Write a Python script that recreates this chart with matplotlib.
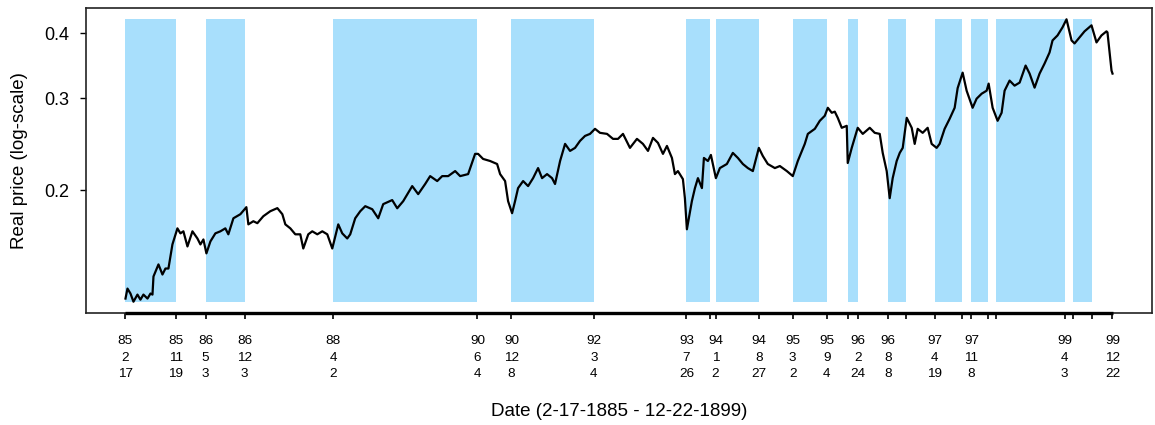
import datetime
import numpy as np
import matplotlib
matplotlib.use("Agg")
import matplotlib.pyplot as plt
from matplotlib.ticker import NullLocator

plt.rcParams['font.family'] = ['Liberation Sans', 'DejaVu Sans']

# real price series (decimal years, price)
years = [1885.129, 1885.159, 1885.204, 1885.249, 1885.309, 1885.354, 1885.399, 1885.460,
         1885.505, 1885.535, 1885.550, 1885.625, 1885.685, 1885.730, 1885.775, 1885.835,
         1885.910, 1885.955, 1886.000, 1886.061, 1886.136, 1886.211, 1886.256, 1886.301,
         1886.346, 1886.406, 1886.481, 1886.556, 1886.631, 1886.676, 1886.752, 1886.857,
         1886.947, 1886.977, 1887.052, 1887.112, 1887.202, 1887.307, 1887.413, 1887.488,
         1887.533, 1887.608, 1887.683, 1887.758, 1887.803, 1887.878, 1887.938, 1888.014,
         1888.089, 1888.164, 1888.239, 1888.329, 1888.389, 1888.464, 1888.509, 1888.584,
         1888.660, 1888.735, 1888.840, 1888.930, 1889.005, 1889.140, 1889.216, 1889.306,
         1889.441, 1889.531, 1889.636, 1889.711, 1889.817, 1889.892, 1889.982, 1890.087,
         1890.162, 1890.282, 1890.387, 1890.432, 1890.507, 1890.613, 1890.718, 1890.763,
         1890.838, 1890.883, 1890.943, 1890.988, 1891.033, 1891.109, 1891.184, 1891.259,
         1891.334, 1891.394, 1891.469, 1891.544, 1891.589, 1891.665, 1891.740, 1891.815,
         1891.890, 1891.965, 1892.040, 1892.115, 1892.190, 1892.265, 1892.371, 1892.461,
         1892.536, 1892.611, 1892.716, 1892.821, 1892.911, 1892.987, 1893.062, 1893.137,
         1893.212, 1893.272, 1893.347, 1893.392, 1893.437, 1893.512, 1893.542, 1893.572,
         1893.647, 1893.693, 1893.738, 1893.798, 1893.828, 1893.888, 1893.933, 1893.963,
         1894.008, 1894.068, 1894.173, 1894.263, 1894.339, 1894.414, 1894.489, 1894.564,
         1894.654, 1894.714, 1894.789, 1894.895, 1894.970, 1895.075, 1895.165, 1895.240,
         1895.345, 1895.391, 1895.496, 1895.571, 1895.646, 1895.691, 1895.751, 1895.796,
         1895.841, 1895.901, 1895.976, 1895.991, 1896.051, 1896.141, 1896.217, 1896.322,
         1896.397, 1896.472, 1896.517, 1896.577, 1896.622, 1896.667, 1896.727, 1896.773,
         1896.818, 1896.878, 1896.953, 1896.998, 1897.043, 1897.118, 1897.193, 1897.253,
         1897.328, 1897.373, 1897.448, 1897.524, 1897.599, 1897.644, 1897.719, 1897.779,
         1897.869, 1897.929, 1898.005, 1898.080, 1898.110, 1898.170, 1898.245, 1898.305,
         1898.350, 1898.425, 1898.500, 1898.576, 1898.666, 1898.726, 1898.801, 1898.876,
         1898.951, 1899.026, 1899.071, 1899.146, 1899.221, 1899.281, 1899.357, 1899.402,
         1899.477, 1899.552, 1899.657, 1899.732, 1899.807, 1899.882, 1899.897, 1899.958,
         1899.973]
price = [0.1238, 0.1294, 0.1266, 0.1221, 0.1260, 0.1232, 0.1260, 0.1238,
         0.1266, 0.1260, 0.1365, 0.1440, 0.1377, 0.1414, 0.1414, 0.1573,
         0.1689, 0.1652, 0.1667, 0.1559, 0.1667, 0.1615, 0.1573, 0.1608,
         0.1512, 0.1594, 0.1652, 0.1667, 0.1689, 0.1645, 0.1766, 0.1798,
         0.1855, 0.1719, 0.1743, 0.1728, 0.1782, 0.1822, 0.1847, 0.1798,
         0.1719, 0.1689, 0.1645, 0.1645, 0.1545, 0.1645, 0.1667, 0.1645,
         0.1667, 0.1645, 0.1545, 0.1719, 0.1652, 0.1615, 0.1645, 0.1766,
         0.1822, 0.1863, 0.1838, 0.1766, 0.1880, 0.1914, 0.1846, 0.1905,
         0.2036, 0.1965, 0.2055, 0.2128, 0.2082, 0.2128, 0.2128, 0.2176,
         0.2128, 0.2147, 0.2348, 0.2348, 0.2296, 0.2275, 0.2245, 0.2147,
         0.2082, 0.1905, 0.1806, 0.1905, 0.2018, 0.2082, 0.2036, 0.2109,
         0.2205, 0.2109, 0.2147, 0.2109, 0.2055, 0.2275, 0.2454, 0.2379,
         0.2411, 0.2487, 0.2542, 0.2565, 0.2623, 0.2577, 0.2565, 0.2509,
         0.2509, 0.2565, 0.2411, 0.2509, 0.2454, 0.2379, 0.2520, 0.2465,
         0.2348, 0.2432, 0.2306, 0.2147, 0.2176, 0.2100, 0.1930, 0.1682,
         0.1905, 0.2018, 0.2109, 0.2018, 0.2306, 0.2275, 0.2337, 0.2245,
         0.2109, 0.2205, 0.2245, 0.2358, 0.2306, 0.2245, 0.2205, 0.2176,
         0.2411, 0.2326, 0.2245, 0.2205, 0.2225, 0.2176, 0.2128, 0.2275,
         0.2454, 0.2565, 0.2623, 0.2718, 0.2779, 0.2879, 0.2816, 0.2830,
         0.2754, 0.2635, 0.2658, 0.2255, 0.2411, 0.2635, 0.2565, 0.2635,
         0.2577, 0.2565, 0.2358, 0.2176, 0.1930, 0.2109, 0.2275, 0.2358,
         0.2411, 0.2754, 0.2635, 0.2454, 0.2623, 0.2577, 0.2635, 0.2454,
         0.2411, 0.2454, 0.2623, 0.2743, 0.2879, 0.3141, 0.3363, 0.3105,
         0.2879, 0.2997, 0.3064, 0.3105, 0.3204, 0.2879, 0.2718, 0.2816,
         0.3105, 0.3247, 0.3175, 0.3218, 0.3470, 0.3349, 0.3147, 0.3349,
         0.3501, 0.3677, 0.3878, 0.3965, 0.4109, 0.4258, 0.3878, 0.3827,
         0.3930, 0.4037, 0.4146, 0.3844, 0.3965, 0.4037, 0.4019, 0.3394,
         0.3349]

# shaded periods (start, end)
band_start = ["1885-02-17", "1886-05-03", "1888-04-02", "1890-12-08", "1893-07-26",
              "1894-01-02", "1895-03-02", "1895-12-28", "1896-08-08", "1897-04-19",
              "1897-11-08", "1898-03-25", "1899-05-21"]
band_end = ["1885-11-19", "1886-12-03", "1890-06-04", "1892-03-04", "1893-12-01",
            "1894-08-27", "1895-09-04", "1896-02-24", "1896-11-16", "1897-09-19",
            "1898-02-09", "1899-04-03", "1899-09-02"]
last_date = "1899-12-22"

# ticks that get no label (they would overlap)
unlabeled = ["1893-12-01", "1895-12-28", "1896-11-16", "1897-09-19",
             "1898-02-09", "1898-03-25", "1899-05-21", "1899-09-02"]

y_ticks = [0.2, 0.3, 0.4]


def dec_year(s):
    d = datetime.date.fromisoformat(s)
    ndays = (datetime.date(d.year + 1, 1, 1) - datetime.date(d.year, 1, 1)).days
    return d.year + (d - datetime.date(d.year, 1, 1)).days / ndays


years = np.array(years)
price = np.array(price)
lo, hi = price.min(), price.max()

fig = plt.figure(figsize=(11.55, 4.25), dpi=100)
ax = fig.add_axes([86 / 1155, 112 / 425, 1066 / 1155, 305 / 425])

for s, e in zip(band_start, band_end):
    ax.fill_between([dec_year(s), dec_year(e)], lo, hi, color="#A8DFFC", lw=0)

ax.plot(years, price, color="black", lw=1.6, zorder=3)

ax.set_yscale("log")
ax.yaxis.set_minor_locator(NullLocator())
ax.set_yticks(y_ticks)
ax.set_yticklabels([str(v) for v in y_ticks])

# R-style 4% padding
xr = years[-1] - years[0]
ax.set_xlim(years[0] - 0.04 * xr, years[-1] + 0.04 * xr)
lr = np.log(hi) - np.log(lo)
ax.set_ylim(np.exp(np.log(lo) - 0.04 * lr), np.exp(np.log(hi) + 0.04 * lr))

tick_dates = sorted(set(band_start + band_end + [last_date]))
tick_labels = []
for t in tick_dates:
    if t in unlabeled:
        tick_labels.append("")
    else:
        d = datetime.date.fromisoformat(t)
        tick_labels.append(f"{d.year % 100}\n{d.month}\n{d.day}")
ax.set_xticks([dec_year(t) for t in tick_dates])
ax.set_xticklabels(tick_labels, fontsize=9.7, linespacing=1.5)
ax.xaxis.set_minor_locator(NullLocator())

ax.tick_params(axis="x", length=4, width=1.2, pad=12)
ax.tick_params(axis="y", length=4.3, width=1.0, pad=8, labelsize=13)

for sp in ax.spines.values():
    sp.set_linewidth(1.2)
    sp.set_color("#222222")

# thick axis line under the dated range
ax.plot([years[0], years[-1]], [ax.get_ylim()[0]] * 2, color="black", lw=2.4,
        solid_capstyle="butt", clip_on=False, zorder=4)

ax.set_xlabel("Date (2-17-1885 - 12-22-1899)", fontsize=13.5)
ax.xaxis.set_label_coords(0.5, -0.322)
ax.xaxis.label.set_va("center")
ax.set_ylabel("Real price (log-scale)", fontsize=13.5)
ax.yaxis.set_label_coords(-0.062, 0.5)
ax.yaxis.label.set_va("center")

fig.savefig("out.png", dpi=100)
